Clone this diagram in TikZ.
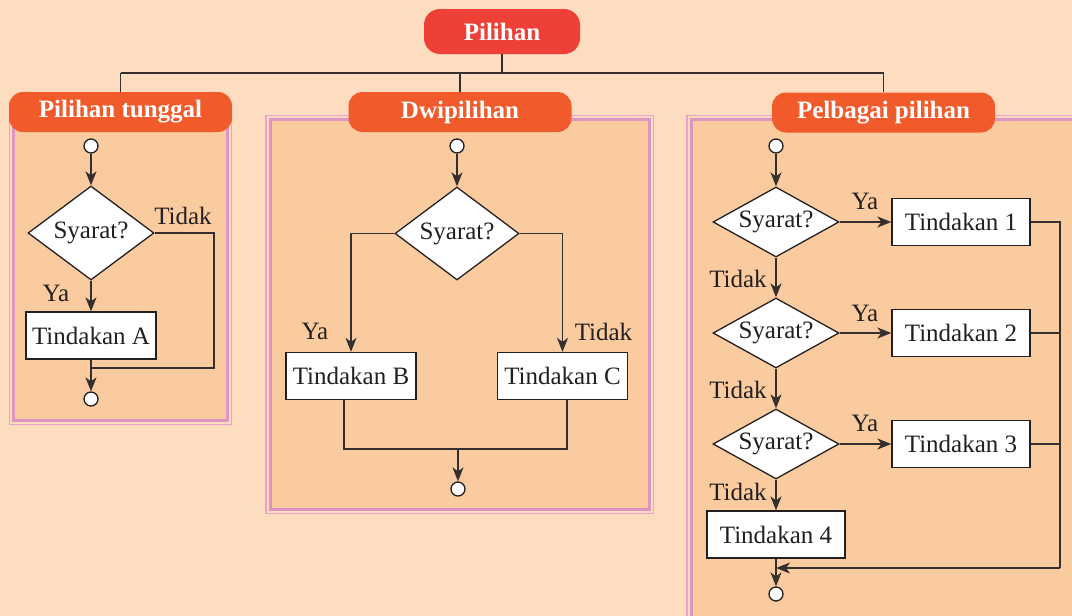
\documentclass[tikz,border=0pt]{standalone}
\usepackage{fontspec}
\setmainfont{Liberation Serif}
\usetikzlibrary{arrows.meta,shapes.geometric}

\definecolor{bgpeach}{HTML}{FDDCC0}
\definecolor{panelfill}{HTML}{FBCBA0}
\definecolor{pinkline}{HTML}{DF94C3}
\definecolor{pinklight}{HTML}{E8A2CB}
\definecolor{headorange}{HTML}{F15A2B}
\definecolor{headred}{HTML}{EF4038}
\definecolor{ink}{HTML}{231F20}
\definecolor{wire}{HTML}{352F30}

\begin{document}
\begin{tikzpicture}[x=1pt,y=-1pt,
  font=\fontsize{25}{28}\selectfont,
  every node/.style={text=ink},
  wire/.style={draw=wire, line width=1.5pt},
  arr/.style={wire, -{Stealth[length=14pt,width=11pt,inset=4pt]}},
  terminal/.style={circle, draw=ink, line width=1.3pt, fill=white,
    minimum size=14pt, inner sep=0pt},
  cond/.style={diamond, draw=ink, line width=1.3pt, fill=white, inner sep=0pt},
  condtall/.style={cond, aspect=1.35, minimum width=126pt, minimum height=94pt},
  condflat/.style={cond, aspect=1.8, minimum width=126pt, minimum height=70pt},
  action/.style={rectangle, draw=ink, line width=1.3pt, fill=white,
    inner sep=0pt, minimum width=130pt, minimum height=47pt},
  actionwide/.style={action, minimum width=138pt},
  lbl/.style={inner sep=0pt},
  header/.style={rectangle, rounded corners=14pt, fill=headorange, text=white,
    font=\fontsize{25}{28}\selectfont\bfseries,
    minimum width=223pt, minimum height=40pt, inner sep=0pt},
  panelout/.style={draw=pinklight, line width=1.2pt},
  panelin/.style={draw=pinkline, line width=3pt, fill=panelfill}
]
\clip (0,0) rectangle (1072,616);
\fill[bgpeach] (0,0) rectangle (1072,616);
\useasboundingbox (0,0) rectangle (1072,616);

% panel frames
\draw[panelout] (9.5,115.5) rectangle (231.5,424.5);
\draw[panelin] (13.5,119) rectangle (227.5,420.5);
\draw[panelout] (266,115.5) rectangle (653.5,513.5);
\draw[panelin] (270,119) rectangle (649.5,509.5);
\draw[panelout] (687,115.5) rectangle (1100,650);
\draw[panelin] (691,119) rectangle (1100,650);

% headings
\node[header, fill=headred, minimum width=156pt, minimum height=45pt,
  rounded corners=16pt] (top) at (502,31.5) {Pilihan};
\coordinate (bus) at (502,73);
\node[header] (h1) at (120.5,112) {Pilihan tunggal};
\node[header] (h2) at (460,112) {Dwipilihan};
\node[header] (h3) at (883.5,112.5) {Pelbagai pilihan};
\draw[wire, line width=1.3pt] (top.south) -- (top.south |- bus);
\draw[wire, line width=1.3pt] (h1.north |- bus) -- (h3.north |- bus);
\draw[wire, line width=1.3pt] (h1.north |- bus) -- (h1.north);
\draw[wire, line width=1.3pt] (h2.north |- bus) -- (h2.north);
\draw[wire, line width=1.3pt] (h3.north |- bus) -- (h3.north);

% single choice
\node[terminal] (s1) at (91,146) {};
\node[condtall] (d1) at (91,233) {Syarat?};
\node[action] (a1) at (91,335.5) {Tindakan A};
\node[terminal] (e1) at (91,399) {};
\coordinate (r1) at (214,368);
\node[lbl] at (183,216) {Tidak};
\node[lbl] at (56,293) {Ya};
\draw[arr] (s1) -- (d1.north);
\draw[arr] (d1.south) -- (a1.north);
\draw[wire] (d1.east) -| (r1) -- (r1 -| e1);
\draw[arr] (a1.south) -- (e1.north);

% two choices
\node[terminal] (s2) at (457,146) {};
\node[condtall, minimum width=124pt, minimum height=93pt] (d2) at (457,233.5) {Syarat?};
\node[action] (b2) at (351,376) {Tindakan B};
\node[action] (c2) at (562.5,376) {Tindakan C};
\node[terminal] (e2) at (458,489) {};
\coordinate (m2) at (458,449);
\node[lbl] at (315,331.5) {Ya};
\node[lbl] at (603.5,331.5) {Tidak};
\draw[arr] (s2) -- (d2.north);
\draw[arr] (d2.west) -| (b2.north);
\draw[arr] (d2.east) -| (c2.north);
\draw[wire] ([xshift=-7pt]b2.south) |- (m2) -| ([xshift=4.5pt]c2.south);
\draw[arr] (m2) -- (e2.north);

% multiple choices
\node[terminal] (s3) at (776,146) {};
\node[condflat] (d3a) at (776,222) {Syarat?};
\node[condflat] (d3b) at (776,333) {Syarat?};
\node[condflat] (d3c) at (776,444) {Syarat?};
\node[actionwide] (t1) at (961,222) {Tindakan 1};
\node[actionwide] (t2) at (961,333) {Tindakan 2};
\node[actionwide] (t3) at (961,444) {Tindakan 3};
\node[actionwide] (t4) at (776,534.5) {Tindakan 4};
\node[terminal] (e3) at (776,594) {};
\coordinate (r3) at (1060,568);
\node[lbl] at (865,201) {Ya};
\node[lbl] at (865,313) {Ya};
\node[lbl] at (865,423) {Ya};
\node[lbl] at (738,279) {Tidak};
\node[lbl] at (738,390) {Tidak};
\node[lbl] at (738,492) {Tidak};
\draw[arr] (s3) -- (d3a.north);
\draw[arr] (d3a.east) -- (t1.west);
\draw[arr] (d3b.east) -- (t2.west);
\draw[arr] (d3c.east) -- (t3.west);
\draw[arr] (d3a.south) -- (d3b.north);
\draw[arr] (d3b.south) -- (d3c.north);
\draw[arr] (d3c.south) -- (t4.north);
\draw[wire] (t1.east) -| (r3);
\draw[wire] (t2.east) -- (t2.east -| r3);
\draw[wire] (t3.east) -- (t3.east -| r3);
\draw[arr] (r3) -- (r3 -| t4.south);
\draw[arr] (t4.south) -- (e3.north);
\end{tikzpicture}
\end{document}
